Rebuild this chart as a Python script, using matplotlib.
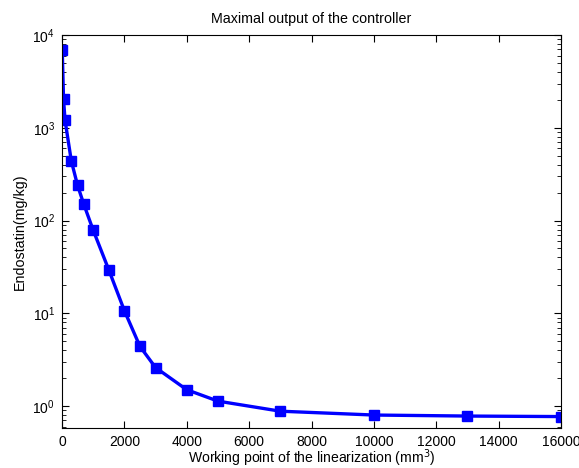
import matplotlib
matplotlib.use("Agg")
import matplotlib.pyplot as plt

plt.rcParams['font.family'] = ['Liberation Sans', 'DejaVu Sans']
plt.rcParams['font.size'] = 10.3

# working points and maximal controller output
working_point = [10, 50, 100, 300, 500, 700, 1000, 1500, 2000, 2500,
                 3000, 4000, 5000, 7000, 10000, 13000, 16000]
endostatin = [6900, 2050, 1200, 440, 240, 150, 79, 29.5, 10.7, 4.4,
              2.6, 1.5, 1.13, 0.88, 0.80, 0.78, 0.77]

fig = plt.figure(figsize=(5.79, 4.68), dpi=100)
ax = fig.add_axes([0.107, 0.0855, 0.862, 0.8395])

ax.semilogy(working_point, endostatin, color='blue', linewidth=2.4,
            marker='s', markersize=7)

ax.set_xlim(0, 16000)
ax.set_ylim(0.58, 1e4)
ax.set_xticks(range(0, 16001, 2000))
ax.tick_params(which='both', direction='in', top=True, right=True)
ax.tick_params(which='major', length=5, pad=5, labelsize=10)
ax.tick_params(which='minor', length=3)

ax.set_title("Maximal output of the controller", fontsize=10.3, pad=9)
ax.set_xlabel("Working point of the linearization (mm$^3$)", fontsize=10.1,
              labelpad=-1)
ax.set_ylabel("Endostatin(mg/kg)", labelpad=4)

fig.savefig("out.png", dpi=100)
